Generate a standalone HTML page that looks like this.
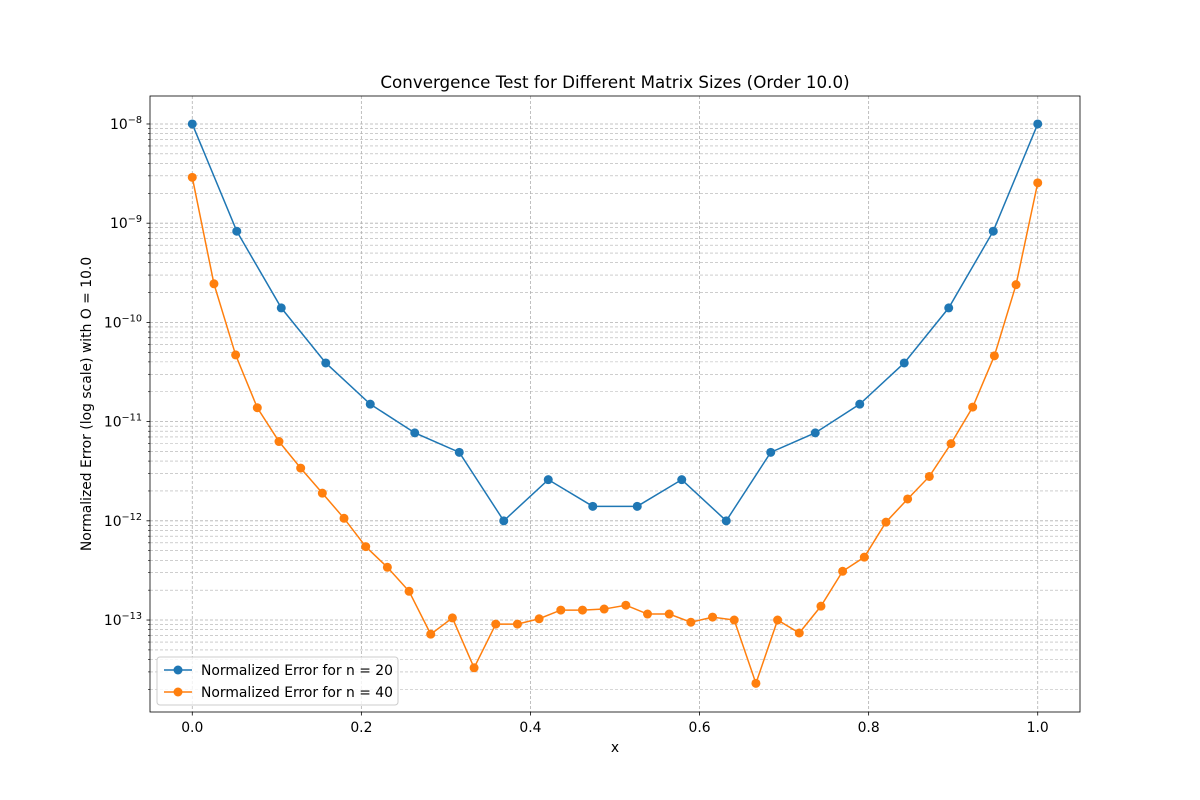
<!DOCTYPE html>
<html><head><meta charset="utf-8"><style>
html,body{margin:0;padding:0;background:#fff;}
svg{display:block;font-family:"DejaVu Sans","Liberation Sans",sans-serif;}
</style></head><body>
<svg id="chart" width="1200" height="800" viewBox="0 0 1200 800" xmlns="http://www.w3.org/2000/svg">
<rect width="1200" height="800" fill="#fff"/>
<text x="615" y="88" text-anchor="middle" font-size="16.7">Convergence Test for Different Matrix Sizes (Order 10.0)</text>
<text x="615" y="752" text-anchor="middle" font-size="13.9">x</text>
<text transform="translate(91,404) rotate(-90)" text-anchor="middle" font-size="13.9">Normalized Error (log scale) with O = 10.0</text>
<g id="grid"></g><g id="series"></g><g id="axes"></g>
<g>
<rect x="157" y="657" width="241" height="48" rx="3" fill="#fff" fill-opacity="0.8" stroke="#ccc"/>
<line x1="164" y1="670" x2="192" y2="670" stroke="#1f77b4" stroke-width="1.5"/><circle cx="178" cy="670" r="4.5" fill="#1f77b4"/>
<text x="201" y="675" font-size="13.9">Normalized Error for n = 20</text>
<line x1="164" y1="692" x2="192" y2="692" stroke="#ff7f0e" stroke-width="1.5"/><circle cx="178" cy="692" r="4.5" fill="#ff7f0e"/>
<text x="201" y="697" font-size="13.9">Normalized Error for n = 40</text>
</g>
</svg>
<script>
const xTicks=[0,0.2,0.4,0.6,0.8,1.0];
const xTickLabels=["0.0","0.2","0.4","0.6","0.8","1.0"];
const yDecades=[-8,-9,-10,-11,-12,-13];
const n20Values=[1e-8,8.3e-10,1.4e-10,3.9e-11,1.5e-11,7.7e-12,4.9e-12,1.0e-12,2.6e-12,1.4e-12,1.4e-12,2.6e-12,1.0e-12,4.9e-12,7.7e-12,1.5e-11,3.9e-11,1.4e-10,8.3e-10,1e-8];
const n40Values=[2.9e-9,2.45e-10,4.7e-11,1.38e-11,6.3e-12,3.4e-12,1.9e-12,1.06e-12,5.5e-13,3.4e-13,1.95e-13,7.2e-14,1.05e-13,3.3e-14,9.1e-14,9.1e-14,1.03e-13,1.26e-13,1.26e-13,1.29e-13,1.41e-13,1.15e-13,1.15e-13,9.5e-14,1.07e-13,1.0e-13,2.3e-14,1.0e-13,7.4e-14,1.38e-13,3.1e-13,4.3e-13,9.7e-13,1.66e-12,2.8e-12,6.0e-12,1.4e-11,4.6e-11,2.4e-10,2.55e-9];
const L=150,R=1080,T=96,B=712,xmin=-0.05,xmax=1.05,lmax=-7.718,lmin=-13.927;
const NS="http://www.w3.org/2000/svg";
const X=v=>L+(v-xmin)/(xmax-xmin)*(R-L);
const Y=v=>T+(lmax-Math.log10(v))/(lmax-lmin)*(B-T);
function mk(tag,attrs,parent){const e=document.createElementNS(NS,tag);for(const k in attrs)e.setAttribute(k,attrs[k]);parent.appendChild(e);return e;}
const grid=document.getElementById('grid'),axes=document.getElementById('axes'),ser=document.getElementById('series');
for(let d=-14;d<=-8;d++){for(let m=1;m<10;m++){const v=m*Math.pow(10,d);const y=Y(v);if(y<T||y>B)continue;
const g=mk('line',{x1:L,x2:R,y1:y,y2:y,stroke:'#b0b0b0','stroke-width':m==1?0.8:0.6,'stroke-dasharray':'3,2'},grid);

mk('line',{x1:L-(m==1?3.5:2),x2:L,y1:y,y2:y,stroke:'#000','stroke-width':m==1?0.8:0.6},axes);}}
xTicks.forEach((t,i)=>{const x=X(t);
const g=mk('line',{x1:x,x2:x,y1:T,y2:B,stroke:'#b0b0b0','stroke-width':0.8,'stroke-dasharray':'3,2'},grid);

mk('line',{x1:x,x2:x,y1:B,y2:B+3.5,stroke:'#000','stroke-width':0.8},axes);
const tx=mk('text',{x:x,y:B+20,'text-anchor':'middle','font-size':13.9},axes);tx.textContent=xTickLabels[i];
});
yDecades.forEach(d=>{const y=Y(Math.pow(10,d));
const tx=mk('text',{x:L-8,y:y+5,'text-anchor':'end','font-size':13.9},axes);

tx.appendChild(document.createTextNode('10'));const s=mk('tspan',{dy:-6,'font-size':9.7},tx);s.textContent='\u2212'+(-d);});
const fr=mk('rect',{x:L,y:T,width:R-L,height:B-T,fill:'none',stroke:'#000','stroke-width':0.8},axes);

function drawSeries(vals,color,name){const n=vals.length;const pts=vals.map((v,i)=>[X(i/(n-1)),Y(v)]);
const pl=mk('polyline',{points:pts.map(p=>p.join(',')).join(' '),fill:'none',stroke:color,'stroke-width':1.5},ser);

pts.forEach(p=>{const c=mk('circle',{cx:p[0],cy:p[1],r:4.5,fill:color},ser);
});}
drawSeries(n20Values,'#1f77b4','n20');
drawSeries(n40Values,'#ff7f0e','n40');
</script>
</body></html>
